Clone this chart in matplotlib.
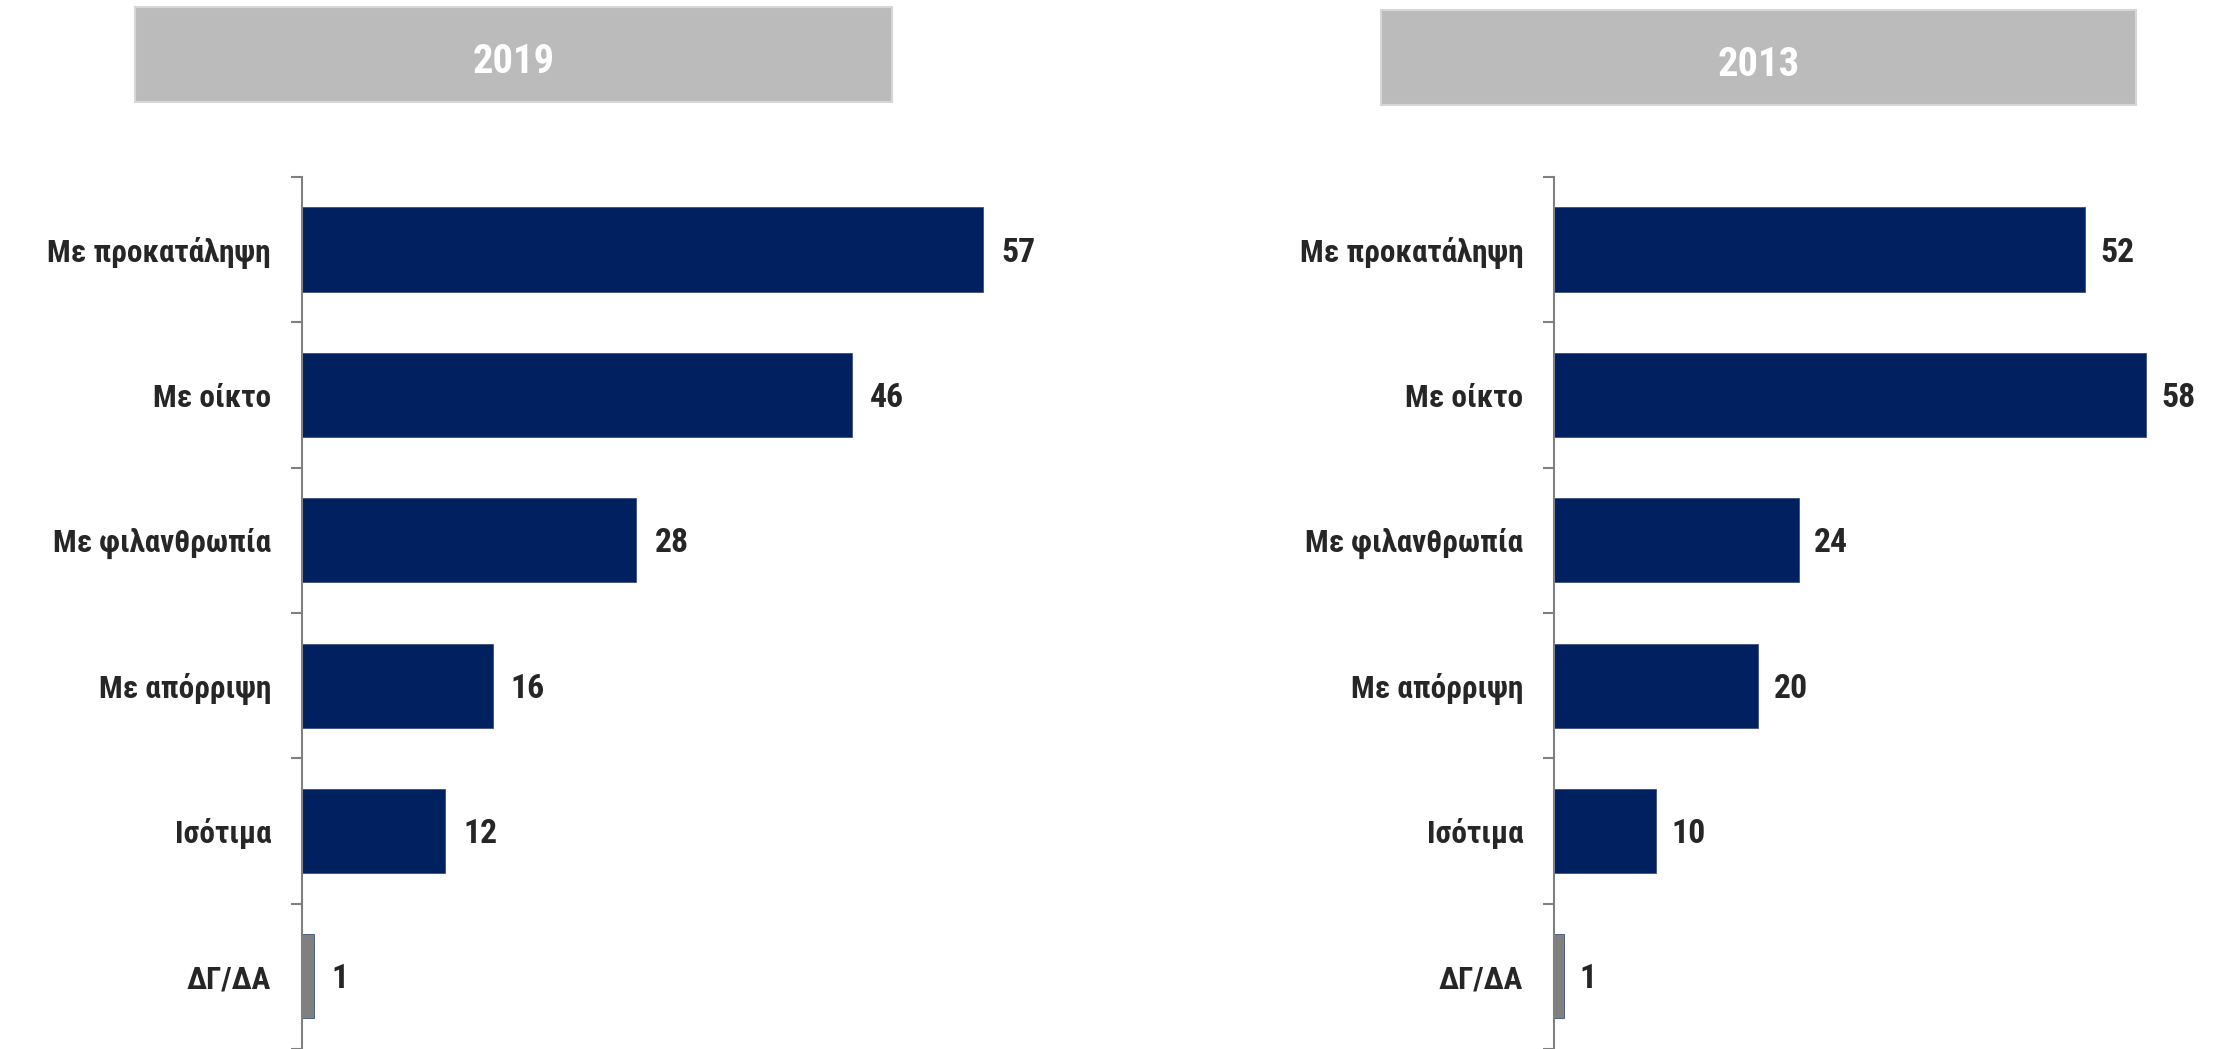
import matplotlib
matplotlib.use("Agg")
import matplotlib.pyplot as plt
from matplotlib import font_manager
from matplotlib.patches import Rectangle
from matplotlib.textpath import TextPath
from matplotlib.font_manager import FontProperties

# Δεδομένα
categories = ["Με προκατάληψη", "Με οίκτο", "Με φιλανθρωπία", "Με απόρριψη", "Ισότιμα", "ΔΓ/ΔΑ"]
values_2019 = [57, 46, 28, 16, 12, 1]
values_2013 = [52, 58, 24, 20, 10, 1]
panel_titles = ["2019", "2013"]

navy = "#002060"
grey_bar = "#808080"
text_col = "#262626"

# wybór najwęższej dostępnej czcionki
installed = {f.name for f in font_manager.fontManager.ttflist}
candidates = ["Liberation Sans Narrow", "Arial Narrow", "Roboto Condensed",
              "DejaVu Sans Condensed", "Roboto", "Liberation Sans"]
family = next((c for c in candidates if c in installed), "DejaVu Sans")
plt.rcParams['font.family'] = [family, 'DejaVu Sans']

# rozmiar dobrany do szerokości najdłuższej etykiety
w = TextPath((0, 0), categories[0], size=100,
             prop=FontProperties(family=family, weight="bold")).get_extents().width
fs = min(30, 100 * 220 * 0.72 / w)

fig = plt.figure(figsize=(22.21, 10.49), dpi=100)

axes_pos = [[0.1358, 0.0, 0.350, 0.8313],
            [0.6996, 0.0, 0.299, 0.8313]]
header_pos = [[0.0608, 0.9028, 0.3408, 0.0905],
              [0.6218, 0.8999, 0.3400, 0.0905]]

for pos, hpos, vals, title in zip(axes_pos, header_pos, [values_2019, values_2013], panel_titles):
    ax = fig.add_axes(pos)
    colors = [navy] * (len(vals) - 1) + [grey_bar]
    y = list(range(len(categories)))
    ax.barh(y, vals, height=0.58, color=colors, edgecolor="#3a5080", linewidth=0.6)
    for yi, v in zip(y, vals):
        ax.text(v + 1.5, yi + 0.02, str(v), va="center", ha="left", fontsize=fs * 1.08,
                fontweight="bold", color=text_col)
    ax.set_xlim(0, 65)
    ax.set_ylim(5.5, -0.5)
    ax.set_yticks(y)
    ax.set_yticklabels(categories, fontsize=fs, fontweight="bold", color=text_col)
    ax.tick_params(axis="y", which="major", length=0, pad=22)
    ax.set_yticks([i - 0.5 for i in range(len(categories) + 1)], minor=True)
    ax.tick_params(axis="y", which="minor", length=8, width=1.5, color="#808080")
    ax.set_xticks([])
    for s in ["top", "right", "bottom"]:
        ax.spines[s].set_visible(False)
    ax.spines["left"].set_color("#808080")
    ax.spines["left"].set_linewidth(1.5)

    # nagłówek z rokiem
    fig.patches.append(Rectangle((hpos[0], hpos[1]), hpos[2], hpos[3],
                                 transform=fig.transFigure, facecolor="#BBBBBB",
                                 edgecolor="#D6D6D6", linewidth=1.5))
    fig.text(hpos[0] + hpos[2] / 2, hpos[1] + hpos[3] / 2 - 0.007, title, ha="center", va="center",
             fontsize=fs * 1.3, fontweight="bold", color="white")

fig.savefig("out.png", dpi=100)
